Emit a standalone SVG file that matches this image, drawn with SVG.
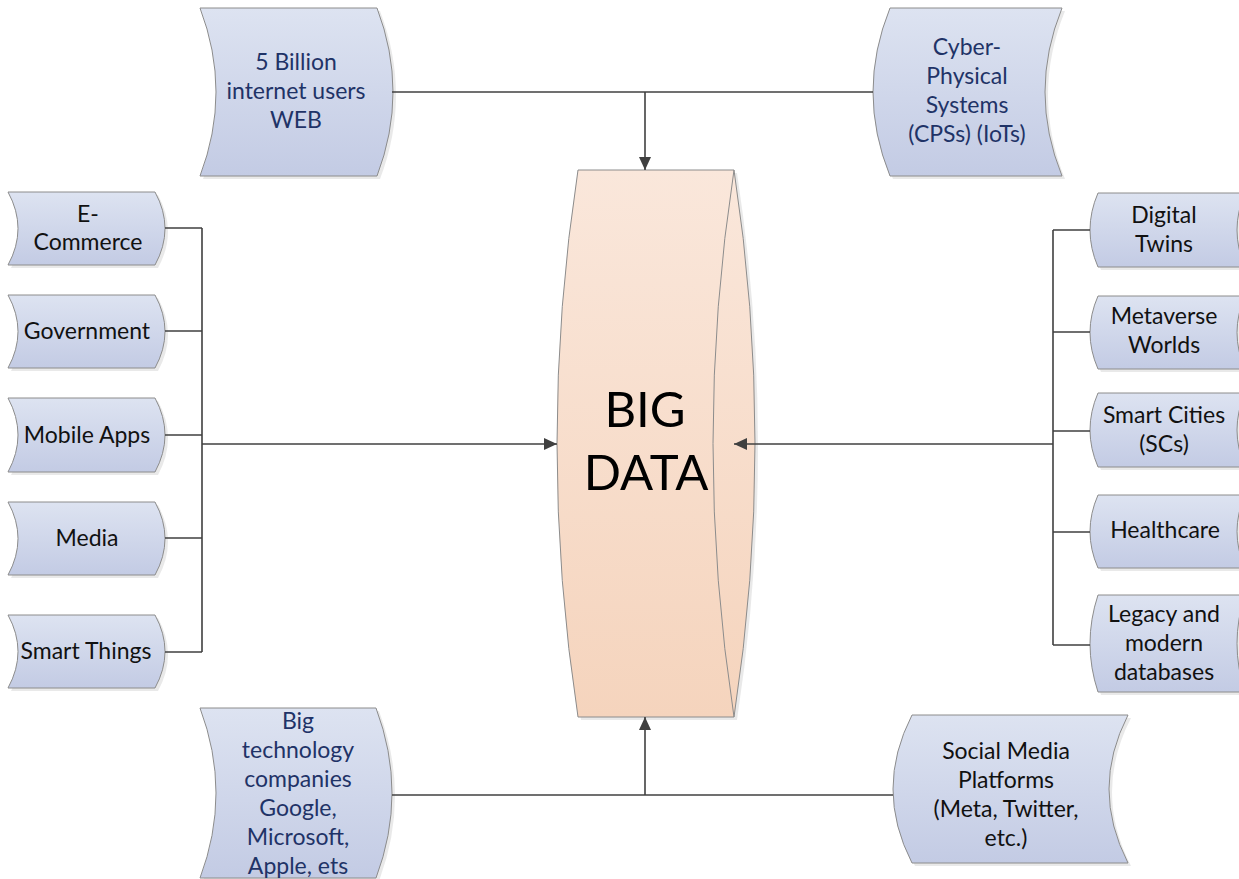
<svg xmlns="http://www.w3.org/2000/svg" width="1239" height="879" viewBox="0 0 1239 879">
<defs>
<linearGradient id="gNode" x1="0" y1="0" x2="0" y2="1">
<stop offset="0" stop-color="#dde3f1"/>
<stop offset="1" stop-color="#c3cbe4"/>
</linearGradient>
<linearGradient id="gBig" x1="0" y1="0" x2="0" y2="1">
<stop offset="0" stop-color="#fae7db"/>
<stop offset="1" stop-color="#f5d4bd"/>
</linearGradient>
<marker id="arr" markerUnits="userSpaceOnUse" markerWidth="14" markerHeight="12" refX="13" refY="6" orient="auto">
<path d="M0,0 L13,6 L0,12 z" fill="#404040"/>
</marker>
<style>
.node{fill:url(#gNode);stroke:#8c8c8c;stroke-width:1}
.shadow{fill:#c8c8c8;opacity:0.4}
.big{fill:url(#gBig);stroke:#8c8c8c;stroke-width:1}
.t{font-family:Lato,"Liberation Sans",sans-serif;font-size:23px;text-anchor:middle;fill:#111}
.tb{fill:#1f3367}
.bt{font-family:Lato,"Liberation Sans",sans-serif;font-size:49px;text-anchor:middle;fill:#000}
.c{fill:none;stroke:#404040;stroke-width:1.6}
</style>
</defs>

<g id="big-data">
<path class="shadow" d="M581,173 L737,173 Q779,446.5 737,720 L581,720 Q539,446.5 581,173 Z"/>
<path class="big" d="M578,170 L734,170 Q776,443.5 734,717 L578,717 Q536,443.5 578,170 Z"/>
<path fill="none" stroke="#8c8c8c" stroke-width="1" d="M734,170 Q692,443.5 734,717"/>
<text class="bt" x="645" y="427">BIG</text>
<text class="bt" x="646" y="490">DATA</text>
</g>

<g id="node-web">
<path class="shadow" d="M203,11 L380,11 Q412,95 380,179 L203,179 Q235,95 203,11 Z"/>
<path class="node" d="M200,8 L377,8 Q409,92 377,176 L200,176 Q232,92 200,8 Z"/>
<text class="t tb" x="296" y="70">5 Billion</text>
<text class="t tb" x="296" y="99">internet users</text>
<text class="t tb" x="296" y="128">WEB</text>
</g>

<g id="node-cps">
<path class="shadow" d="M893,11 L1065,11 Q1031,95 1065,179 L893,179 Q859,95 893,11 Z"/>
<path class="node" d="M890,8 L1062,8 Q1028,92 1062,176 L890,176 Q856,92 890,8 Z"/>
<text class="t tb" x="967" y="55">Cyber-</text>
<text class="t tb" x="967" y="84">Physical</text>
<text class="t tb" x="967" y="113">Systems</text>
<text class="t tb" x="967" y="142">(CPSs) (IoTs)</text>
</g>

<g id="node-ecommerce">
<path class="shadow" d="M11,195 L158,195 Q178,231.5 158,268 L11,268 Q31,231.5 11,195 Z"/>
<path class="node" d="M8,192 L155,192 Q175,228.5 155,265 L8,265 Q28,228.5 8,192 Z"/>
<text class="t" x="88" y="222">E-</text>
<text class="t" x="88" y="250">Commerce</text>
</g>

<g id="node-government">
<path class="shadow" d="M11,298 L158,298 Q178,334.5 158,371 L11,371 Q31,334.5 11,298 Z"/>
<path class="node" d="M8,295 L155,295 Q175,331.5 155,368 L8,368 Q28,331.5 8,295 Z"/>
<text class="t" x="87" y="339">Government</text>
</g>

<g id="node-mobile">
<path class="shadow" d="M11,401 L158,401 Q178,438 158,475 L11,475 Q31,438 11,401 Z"/>
<path class="node" d="M8,398 L155,398 Q175,435 155,472 L8,472 Q28,435 8,398 Z"/>
<text class="t" x="87" y="443">Mobile Apps</text>
</g>

<g id="node-media">
<path class="shadow" d="M11,505 L158,505 Q178,541.5 158,578 L11,578 Q31,541.5 11,505 Z"/>
<path class="node" d="M8,502 L155,502 Q175,538.5 155,575 L8,575 Q28,538.5 8,502 Z"/>
<text class="t" x="87" y="546">Media</text>
</g>

<g id="node-smartthings">
<path class="shadow" d="M11,618 L158,618 Q178,654.5 158,691 L11,691 Q31,654.5 11,618 Z"/>
<path class="node" d="M8,615 L155,615 Q175,651.5 155,688 L8,688 Q28,651.5 8,615 Z"/>
<text class="t" x="86" y="659">Smart Things</text>
</g>

<g id="node-digitaltwins">
<path class="shadow" d="M1101,196 L1248,196 Q1232,233 1248,270 L1101,270 Q1085,233 1101,196 Z"/>
<path class="node" d="M1098,193 L1245,193 Q1229,230 1245,267 L1098,267 Q1082,230 1098,193 Z"/>
<text class="t" x="1164" y="223">Digital</text>
<text class="t" x="1164" y="252">Twins</text>
</g>

<g id="node-metaverse">
<path class="shadow" d="M1101,299 L1248,299 Q1232,335.5 1248,372 L1101,372 Q1085,335.5 1101,299 Z"/>
<path class="node" d="M1098,296 L1245,296 Q1229,332.5 1245,369 L1098,369 Q1082,332.5 1098,296 Z"/>
<text class="t" x="1164" y="324">Metaverse</text>
<text class="t" x="1164" y="353">Worlds</text>
</g>

<g id="node-smartcities">
<path class="shadow" d="M1101,396 L1248,396 Q1232,433 1248,470 L1101,470 Q1085,433 1101,396 Z"/>
<path class="node" d="M1098,393 L1245,393 Q1229,430 1245,467 L1098,467 Q1082,430 1098,393 Z"/>
<text class="t" x="1164" y="423">Smart Cities</text>
<text class="t" x="1164" y="452">(SCs)</text>
</g>

<g id="node-healthcare">
<path class="shadow" d="M1101,498 L1248,498 Q1232,534.5 1248,571 L1101,571 Q1085,534.5 1101,498 Z"/>
<path class="node" d="M1098,495 L1245,495 Q1229,531.5 1245,568 L1098,568 Q1082,531.5 1098,495 Z"/>
<text class="t" x="1165" y="538">Healthcare</text>
</g>

<g id="node-legacy">
<path class="shadow" d="M1101,598 L1248,598 Q1232,646.5 1248,695 L1101,695 Q1085,646.5 1101,598 Z"/>
<path class="node" d="M1098,595 L1245,595 Q1229,643.5 1245,692 L1098,692 Q1082,643.5 1098,595 Z"/>
<text class="t" x="1164" y="622">Legacy and</text>
<text class="t" x="1164" y="651">modern</text>
<text class="t" x="1164" y="680">databases</text>
</g>

<g id="node-bigtech">
<path class="shadow" d="M203,711 L379,711 Q411,796 379,881 L203,881 Q235,796 203,711 Z"/>
<path class="node" d="M200,708 L376,708 Q408,793 376,878 L200,878 Q232,793 200,708 Z"/>
<text class="t tb" x="298" y="729">Big</text>
<text class="t tb" x="298" y="758">technology</text>
<text class="t tb" x="298" y="787">companies</text>
<text class="t tb" x="298" y="816">Google,</text>
<text class="t tb" x="298" y="845">Microsoft,</text>
<text class="t tb" x="298" y="874">Apple, ets</text>
</g>

<g id="node-social">
<path class="shadow" d="M915,718 L1131,718 Q1093,792 1131,866 L915,866 Q877,792 915,718 Z"/>
<path class="node" d="M912,715 L1128,715 Q1090,789 1128,863 L912,863 Q874,789 912,715 Z"/>
<text class="t" x="1006" y="759">Social Media</text>
<text class="t" x="1006" y="788">Platforms</text>
<text class="t" x="1006" y="817">(Meta, Twitter,</text>
<text class="t" x="1006" y="846">etc.)</text>
</g>

<g id="connectors">
<path class="c" d="M392,92 L873,92"/>
<path class="c" d="M645,92 L645,170" marker-end="url(#arr)"/>
<path class="c" d="M392,795 L893,795"/>
<path class="c" d="M645,795 L645,717" marker-end="url(#arr)"/>
<path class="c" d="M165,228 L202,228 M165,331 L202,331 M165,435 L202,435 M165,538 L202,538 M165,652 L202,652 M202,228 L202,652"/>
<path class="c" d="M202,444 L557,444" marker-end="url(#arr)"/>
<path class="c" d="M1090,230 L1053,230 M1090,332 L1053,332 M1090,431 L1053,431 M1090,532 L1053,532 M1090,645 L1053,645 M1053,230 L1053,645"/>
<path class="c" d="M1053,444 L734,444" marker-end="url(#arr)"/>
</g>
</svg>
